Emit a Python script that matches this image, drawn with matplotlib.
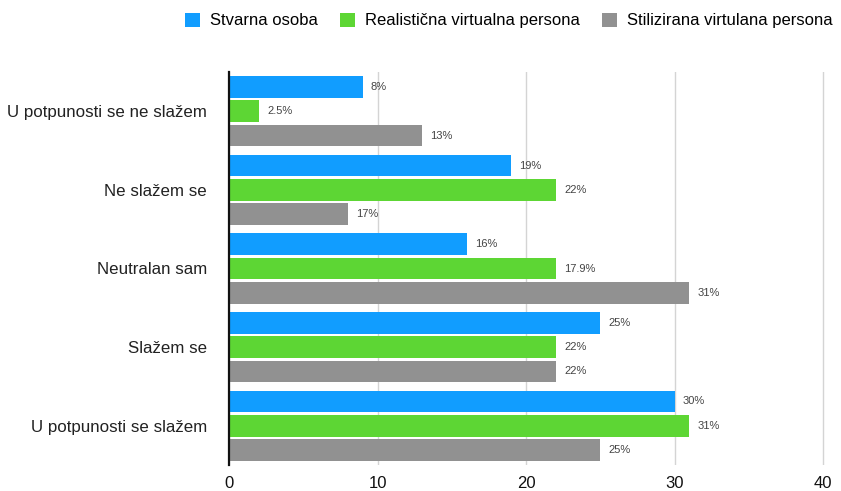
import matplotlib.pyplot as plt
import numpy as np

# data
categories = [
    "U potpunosti se ne slažem",
    "Ne slažem se",
    "Neutralan sam",
    "Slažem se",
    "U potpunosti se slažem",
]
series_names = ["Stvarna osoba", "Realistična virtualna persona", "Stilizirana virtulana persona"]
stvarna = [9, 19, 16, 25, 30]
realisticna = [2, 22, 22, 22, 31]
stilizirana = [13, 8, 31, 22, 25]
stvarna_labels = ["8%", "19%", "16%", "25%", "30%"]
realisticna_labels = ["2.5%", "22%", "17.9%", "22%", "31%"]
stilizirana_labels = ["13%", "17%", "31%", "22%", "25%"]
x_ticks = [0, 10, 20, 30, 40]

colors = ["#119DFF", "#5DD634", "#919191"]

plt.rcParams["font.family"] = ["Liberation Sans", "DejaVu Sans"]

fig = plt.figure(figsize=(8.41, 4.91), dpi=100)
ax = fig.add_axes([229 / 841, 1 - 465 / 491, (827.5 - 229) / 841, (465 - 72) / 491])

y = np.arange(len(categories))
pitch = 0.31
height = 0.275
series = [stvarna, realisticna, stilizirana]
labels = [stvarna_labels, realisticna_labels, stilizirana_labels]

for i, (vals, labs) in enumerate(zip(series, labels)):
    pos = y + (i - 1) * pitch
    bars = ax.barh(pos, vals, height=height, color=colors[i], label=series_names[i], zorder=3)
    for b, lab in zip(bars, labs):
        ax.annotate(
            lab,
            xy=(b.get_width(), b.get_y() + b.get_height() / 2),
            xytext=(6, 0),
            textcoords="offset points",
            va="center",
            ha="left",
            fontsize=8,
            color="#444444",
        )

ax.set_xlim(0, 40.3)
ax.set_ylim(4.5, -0.5)
ax.set_yticks(y)
ax.set_yticklabels(categories, fontsize=12.2, color="#222222")
ax.set_xticks(x_ticks)
ax.set_xticklabels([str(t) for t in x_ticks], fontsize=12, color="#111111")
ax.tick_params(axis="y", length=0, pad=16)
ax.tick_params(axis="x", length=0, pad=8)

ax.xaxis.grid(True, color="#d4d4d4", linewidth=1, zorder=0)
for s in ["top", "right", "bottom"]:
    ax.spines[s].set_visible(False)
ax.spines["left"].set_linewidth(1.6)
ax.spines["left"].set_color("#111111")
ax.spines["left"].set_zorder(4)

fig.legend(
    loc="center",
    bbox_to_anchor=(0.605, 0.958),
    ncol=3,
    frameon=False,
    fontsize=12,
    handlelength=0.9,
    handleheight=0.9,
    handletextpad=0.6,
    columnspacing=1.3,
)

plt.savefig("out.png", dpi=100)
